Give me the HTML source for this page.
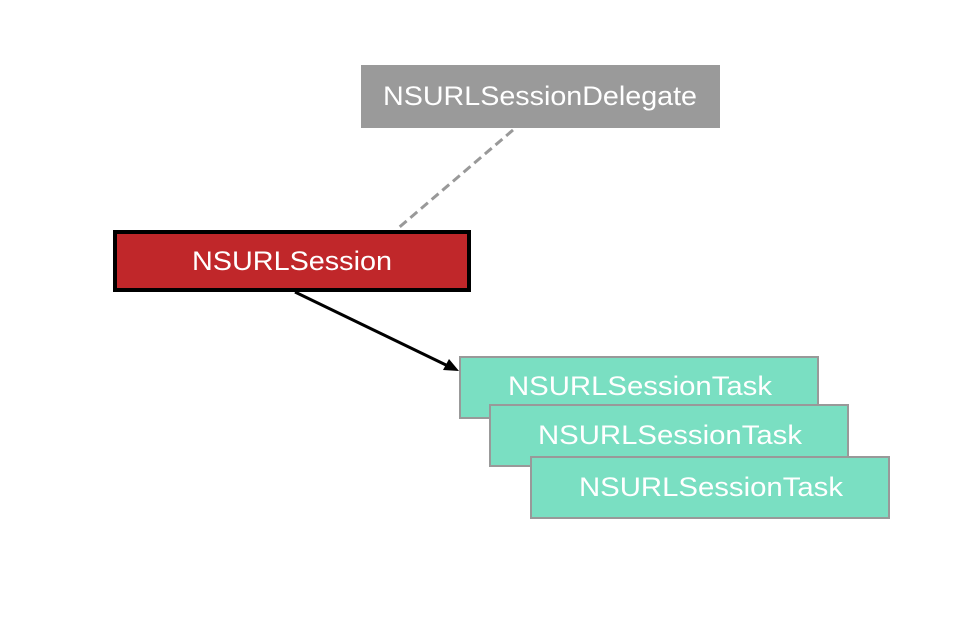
<!DOCTYPE html>
<html><head><style>html,body{margin:0;padding:0;background:#fff;}</style></head>
<body>
<svg width="955" height="617" xmlns="http://www.w3.org/2000/svg" font-family="Liberation Sans, sans-serif">
<rect x="0" y="0" width="955" height="617" fill="#fff"/>
<line x1="513" y1="130" x2="396" y2="230" stroke="#999" stroke-width="3" stroke-dasharray="9,5"/>
<rect x="361" y="65" width="359" height="63" fill="#9a9a9a"/>
<text x="540" y="105" fill="#fff" font-size="27" text-anchor="middle" textLength="314" lengthAdjust="spacingAndGlyphs">NSURLSessionDelegate</text>
<rect x="115" y="232" width="354" height="58" fill="#c0272a" stroke="#000" stroke-width="4"/>
<text x="292" y="270" fill="#fff" font-size="27" text-anchor="middle" textLength="200" lengthAdjust="spacingAndGlyphs">NSURLSession</text>
<line x1="295" y1="292" x2="446" y2="365" stroke="#000" stroke-width="3"/>
<polygon points="459,371 443,370 449,359" fill="#000"/>
<rect x="460" y="357" width="358" height="61" fill="#7adfc2" stroke="#999" stroke-width="2"/>
<text x="640" y="395" fill="#fff" font-size="27" text-anchor="middle" textLength="264" lengthAdjust="spacingAndGlyphs">NSURLSessionTask</text>
<rect x="490" y="405" width="358" height="61" fill="#7adfc2" stroke="#999" stroke-width="2"/>
<text x="670" y="444" fill="#fff" font-size="27" text-anchor="middle" textLength="264" lengthAdjust="spacingAndGlyphs">NSURLSessionTask</text>
<rect x="531" y="457" width="358" height="61" fill="#7adfc2" stroke="#999" stroke-width="2"/>
<text x="711" y="496" fill="#fff" font-size="27" text-anchor="middle" textLength="264" lengthAdjust="spacingAndGlyphs">NSURLSessionTask</text>
</svg>
</body></html>
